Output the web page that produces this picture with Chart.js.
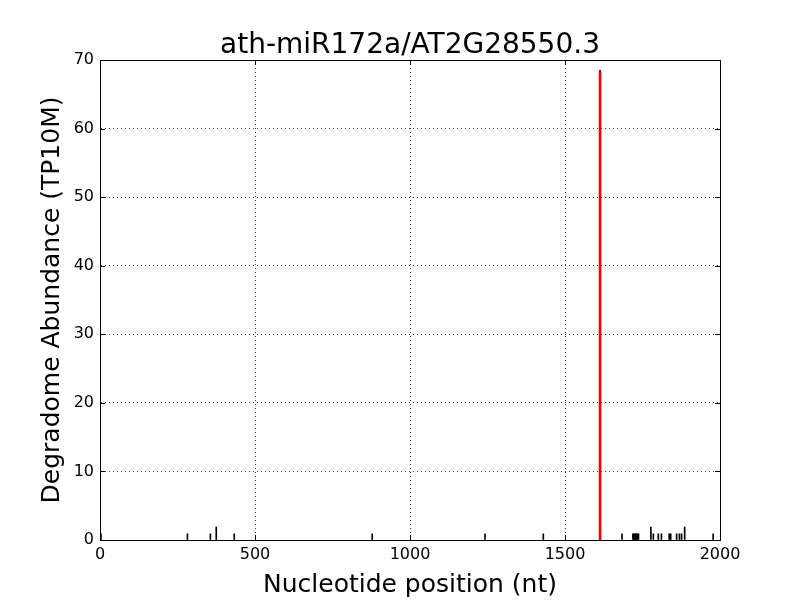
<!DOCTYPE html>
<html>
<head>
<meta charset="utf-8">
<script src="https://cdn.jsdelivr.net/npm/chart.js@4.4.0/dist/chart.umd.min.js"></script>
<style>
    html, body { margin: 0; padding: 0; background: #ffffff; }
    #wrap { width: 800px; height: 600px; }
</style>
</head>
<body>
<div id="wrap"><canvas id="degChart" width="800" height="600"></canvas></div>
<script>
// ── data ──
const titleText = 'ath-miR172a/AT2G28550.3';
const positions = [3, 282, 356, 375, 433, 878, 1242, 1430, 1613, 1684,
                   1719, 1722, 1725, 1728, 1731, 1734, 1737,
                   1777, 1785, 1801, 1811, 1836, 1841, 1860, 1869, 1876, 1886, 1978];
const abundance = [0.9, 0.9, 0.9, 1.9, 0.9, 0.9, 0.9, 0.9, 68.5, 0.9,
                   0.9, 0.9, 0.9, 0.9, 0.9, 0.9, 0.9,
                   1.9, 0.9, 0.9, 0.9, 0.9, 0.9, 0.9, 0.9, 0.9, 1.9, 0.9];
const sitePos = [1613];
const siteAbundance = [68.3];
const xTicks = [0, 500, 1000, 1500, 2000];
const yTicks = [0, 10, 20, 30, 40, 50, 60, 70];

const FONT = 'DejaVu Sans';

// inward tick marks + full frame, like matplotlib classic
const framePlugin = {
    id: 'frame',
    afterDraw(chart) {
        const { ctx, chartArea: a, scales } = chart;
        const len = 5;
        ctx.save();
        ctx.strokeStyle = '#000';
        ctx.lineWidth = 1;
        ctx.beginPath();
        xTicks.forEach(v => {
            const px = Math.round(scales.x.getPixelForValue(v)) + 0.5;
            ctx.moveTo(px, a.bottom); ctx.lineTo(px, a.bottom - len);
            ctx.moveTo(px, a.top); ctx.lineTo(px, a.top + len);
        });
        yTicks.forEach(v => {
            const py = Math.round(scales.y.getPixelForValue(v)) + 0.5;
            ctx.moveTo(a.left, py); ctx.lineTo(a.left + len, py);
            ctx.moveTo(a.right, py); ctx.lineTo(a.right - len, py);
        });
        ctx.stroke();
        ctx.strokeRect(Math.round(a.left) + 0.5, Math.round(a.top) + 0.5,
                       Math.round(a.right - a.left), Math.round(a.bottom - a.top));

        // title, centred over the plot area
        ctx.fillStyle = '#000';
        ctx.font = '28px "' + FONT + '"';
        ctx.textAlign = 'center';
        ctx.textBaseline = 'alphabetic';
        ctx.fillText(titleText, (a.left + a.right) / 2, 53);
        ctx.restore();
    }
};

const whiteBg = {
    id: 'whiteBg',
    beforeDraw(chart) {
        const { ctx } = chart;
        ctx.save();
        ctx.fillStyle = '#ffffff';
        ctx.fillRect(0, 0, chart.width, chart.height);
        ctx.restore();
    }
};

new Chart(document.getElementById('degChart'), {
    type: 'bar',
    data: {
        datasets: [{
            label: 'site',
            data: sitePos.map((x, i) => ({ x: x, y: siteAbundance[i] })),
            backgroundColor: '#ff0000',
            barThickness: 2,
            grouped: false,
            order: 0
        }, {
            label: 'degradome',
            data: positions.map((x, i) => ({ x: x, y: abundance[i] })),
            backgroundColor: '#000000',
            barThickness: 1,
            grouped: false,
            order: 1
        }]
    },
    options: {
        responsive: false,
        animation: false,
        layout: { padding: { left: 0, right: 80, top: 60, bottom: 0 } },
        plugins: {
            legend: { display: false },
            tooltip: { enabled: false },
            title: { display: false }
        },
        scales: {
            x: {
                type: 'linear',
                min: 0,
                max: 2000,
                offset: false,
                afterFit(scale) { scale.height = 60; },
                afterBuildTicks(scale) { scale.ticks = xTicks.map(v => ({ value: v })); },
                ticks: { color: '#000', padding: 5, font: { family: FONT, size: 16 },
                         callback: v => String(v) },
                grid: { color: 'rgba(0,0,0,0.75)', lineWidth: 1, offset: false, drawTicks: false },
                border: { color: '#000', dash: [1, 3] },
                title: {
                    display: true,
                    text: 'Nucleotide position (nt)',
                    color: '#000',
                    font: { family: FONT, size: 25 },
                    padding: { top: 4, bottom: 0 }
                }
            },
            y: {
                min: 0,
                max: 70,
                afterFit(scale) { scale.width = 100; },
                afterBuildTicks(scale) { scale.ticks = yTicks.map(v => ({ value: v })); },
                ticks: { color: '#000', padding: 6, font: { family: FONT, size: 16 },
                         callback: v => String(v) },
                grid: { color: 'rgba(0,0,0,0.75)', lineWidth: 1, drawTicks: false },
                border: { color: '#000', dash: [1, 3] },
                title: {
                    display: true,
                    text: 'Degradome Abundance (TP10M)',
                    color: '#000',
                    font: { family: FONT, size: 25 },
                    padding: { top: 37, bottom: 0 }
                }
            }
        }
    },
    plugins: [whiteBg, framePlugin]
});
</script>
</body>
</html>
